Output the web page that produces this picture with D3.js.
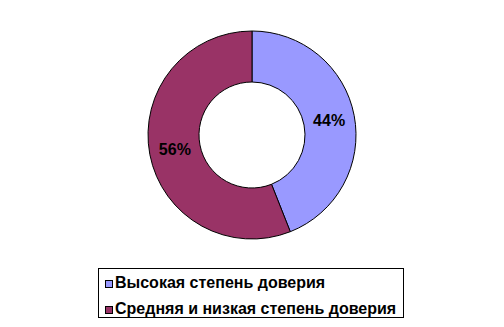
<!DOCTYPE html>
<html>
<head>
<meta charset="utf-8">
<script src="https://cdn.jsdelivr.net/npm/d3@7"></script>
<style>
  body { margin: 0; background: #fff; }
  svg { display: block; font-family: Arial, "Liberation Sans", sans-serif; }
</style>
</head>
<body>
<svg id="chart" width="504" height="327"></svg>
<script>
// chart data
const categories = ['Высокая степень доверия', 'Средняя и низкая степень доверия'];
const values = [44, 56];
const colors = ['#9999FF', '#993366'];

const svg = d3.select('#chart');
const cx = 252, cy = 135, outerR = 104, innerR = 53;

const pie = d3.pie().sort(null).value(d => d.value);
const arc = d3.arc().innerRadius(innerR).outerRadius(outerR);

const data = categories.map((c, i) => ({ name: c, value: values[i], color: colors[i] }));
const arcs = pie(data);

const g = svg.append('g')
  .attr('transform', `translate(${cx},${cy})`);

g.selectAll('path.slice')
  .data(arcs)
  .enter()
  .append('path')
  .classed('slice', true)
  .attr('d', arc)
  .style('fill', d => d.data.color)
  .style('stroke', '#000')
  .style('stroke-width', 1);

// percent labels at slice centroids
g.selectAll('text.pct')
  .data(arcs)
  .enter()
  .append('text')
  .classed('pct', true)
  .attr('transform', d => `translate(${arc.centroid(d)})`)
  .attr('text-anchor', 'middle')
  .attr('dy', '0.36em')
  .style('font-size', '16px')
  .style('font-weight', 'bold')
  .text(d => d.data.value + '%');

// legend
const legend = svg.append('g').attr('transform', 'translate(98,268)');
legend.append('rect')
  .attr('x', 0.5).attr('y', 0.5)
  .attr('width', 305).attr('height', 49)
  .style('fill', '#fff')
  .style('stroke', '#000')
  .style('stroke-width', 1);

const items = legend.selectAll('g.item')
  .data(data)
  .enter()
  .append('g')
  .classed('item', true)
  .attr('transform', (d, i) => `translate(0,${i * 26})`);

items.append('rect')
  .attr('x', 7.5).attr('y', 12.5)
  .attr('width', 7).attr('height', 7)
  .style('fill', d => d.color)
  .style('stroke', '#000')
  .style('stroke-width', 1);

items.append('text')
  .attr('x', 17)
  .attr('y', 20)
  .style('font-size', '16px')
  .style('font-weight', 'bold')
  .text(d => d.name);
</script>
</body>
</html>
